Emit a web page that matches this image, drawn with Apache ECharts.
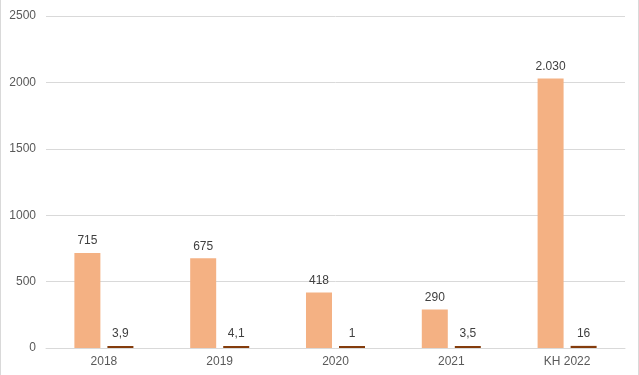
<!DOCTYPE html>
<html><head><meta charset="utf-8">
<script src="https://cdn.jsdelivr.net/npm/echarts@6/dist/echarts.min.js"></script>
<style>
html,body{margin:0;padding:0;background:#fff;}
#wrap{width:637px;height:375px;border-left:1px solid #d9d9d9;border-right:1px solid #d9d9d9;}
#c{width:637px;height:375px;}
</style></head><body>
<div id="wrap"><div id="c"></div></div>
<script>
var categories = ['2018', '2019', '2020', '2021', 'KH 2022'];
var seriesA = [715, 675, 418, 290, 2030];
var seriesB = [3.9, 4.1, 1, 3.5, 16];
var yTicks = [0, 500, 1000, 1500, 2000, 2500];

function fmt(v) {
  var s = String(v);
  var parts = s.split('.');
  var intPart = parts[0].replace(/\B(?=(\d{3})+(?!\d))/g, '.');
  return parts.length > 1 ? intPart + ',' + parts[1] : intPart;
}

var chart = echarts.init(document.getElementById('c'));
chart.setOption({
  animation: false,
  textStyle: {fontFamily: 'Liberation Sans, Arial, sans-serif'},
  grid: {left: 45, right: 13, top: 16, bottom: 27, containLabel: false},
  xAxis: {
    type: 'category', data: categories,
    axisLine: {lineStyle: {color: '#d9d9d9'}},
    axisTick: {show: false},
    axisLabel: {color: '#595959', fontSize: 12, margin: 8}
  },
  yAxis: {
    type: 'value', min: yTicks[0], max: yTicks[yTicks.length - 1], interval: 500,
    axisLine: {show: false}, axisTick: {show: false},
    splitLine: {lineStyle: {color: '#d9d9d9'}},
    axisLabel: {color: '#595959', fontSize: 12, margin: 10,
                formatter: function(v){return String(v);}}
  },
  series: [
    {type: 'bar', data: seriesA, barWidth: 26, barGap: '27%',
     itemStyle: {color: '#F4B183'},
     label: {show: true, position: 'top', color: '#404040', fontSize: 12, distance: 6,
             formatter: function(p){return fmt(p.value);}}},
    {type: 'bar', data: seriesB, barWidth: 26, barMinHeight: 2,
     itemStyle: {color: '#843C0C'},
     label: {show: true, position: 'top', color: '#404040', fontSize: 12, distance: 6,
             formatter: function(p){return fmt(p.value);}}}
  ]
});
</script>
</body></html>
